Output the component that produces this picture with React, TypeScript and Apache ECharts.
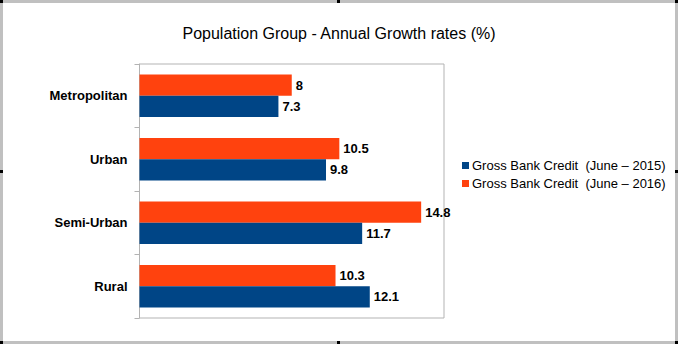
import React, { useEffect, useRef } from "react";
import * as echarts from "echarts";

const categories = ["Metropolitan", "Urban", "Semi-Urban", "Rural"];
const credit2015 = [7.3, 9.8, 11.7, 12.1];
const credit2016 = [8, 10.5, 14.8, 10.3];
const name2015 = "Gross Bank Credit  (June \u2013 2015)";
const name2016 = "Gross Bank Credit  (June \u2013 2016)";

const W = 678;
const H = 344;

export default function App() {
  const ref = useRef<HTMLDivElement>(null);
  useEffect(() => {
    if (!ref.current) return;
    const chart = echarts.init(ref.current, null, { renderer: "svg" });
    const font = "'Liberation Sans', Arial, sans-serif";
    const label = {
      show: true,
      position: "right" as const,
      distance: 4,
      color: "#000",
      fontWeight: "bold" as const,
      fontSize: 13,
      fontFamily: font,
    };
    const handles: any[] = [];
    const hs = [
      [0, 0], [337, 0], [675, 0],
      [0, 170], [675, 170],
      [0, 341], [337, 341], [675, 341],
    ];
    hs.forEach(([x, y]) =>
      handles.push({ type: "rect", shape: { x, y, width: 3, height: 3 }, style: { fill: "#000" }, z: 101 })
    );
    chart.setOption({
      animation: false,
      backgroundColor: "#fff",
      title: {
        text: "Population Group - Annual Growth rates (%)",
        left: "center",
        top: 20,
        textStyle: { fontFamily: font, fontSize: 16, fontWeight: "normal", color: "#000" },
      },
      graphic: [
        { type: "rect", shape: { x: 0, y: 0, width: W, height: 3 }, style: { fill: "#c0c0c0" }, z: 100 },
        { type: "rect", shape: { x: 0, y: H - 3, width: W, height: 3 }, style: { fill: "#c0c0c0" }, z: 100 },
        { type: "rect", shape: { x: 0, y: 0, width: 3, height: H }, style: { fill: "#c0c0c0" }, z: 100 },
        { type: "rect", shape: { x: W - 3, y: 0, width: 3, height: H }, style: { fill: "#c0c0c0" }, z: 100 },
        ...handles,
      ],
      legend: {
        orient: "vertical",
        left: 457,
        top: 154,
        itemWidth: 7,
        itemHeight: 7,
        itemGap: 5,
        icon: "rect",
        data: [name2015, name2016],
        textStyle: { fontFamily: font, fontSize: 13, color: "#000", padding: [0, 0, 0, -2] },
      },
      grid: {
        left: 139.5,
        right: 234,
        top: 64,
        bottom: 26,
        show: true,
        borderColor: "#b3b3b3",
        borderWidth: 1,
      },
      xAxis: {
        type: "value",
        min: 0,
        max: 16,
        axisLabel: { show: false },
        axisLine: { show: false },
        axisTick: { show: false },
        splitLine: { show: false },
      },
      yAxis: {
        type: "category",
        inverse: true,
        data: categories,
        axisLine: { show: true, lineStyle: { color: "#b3b3b3" } },
        axisTick: { show: true, length: 5, lineStyle: { color: "#b3b3b3" } },
        axisLabel: {
          color: "#000",
          fontWeight: "bold",
          fontSize: 13,
          fontFamily: font,
          margin: 12,
        },
      },
      series: [
        {
          name: name2016,
          type: "bar",
          data: credit2016,
          barGap: "0%",
          barCategoryGap: "33%",
          itemStyle: { color: "#ff420e" },
          label,
        },
        {
          name: name2015,
          type: "bar",
          data: credit2015,
          barGap: "0%",
          barCategoryGap: "33%",
          itemStyle: { color: "#004586" },
          label,
        },
      ],
    });
    return () => chart.dispose();
  }, []);
  return (
    <div
      ref={ref}
      style={{ position: "fixed", left: 0, top: 0, width: W, height: H }}
    />
  );
}
